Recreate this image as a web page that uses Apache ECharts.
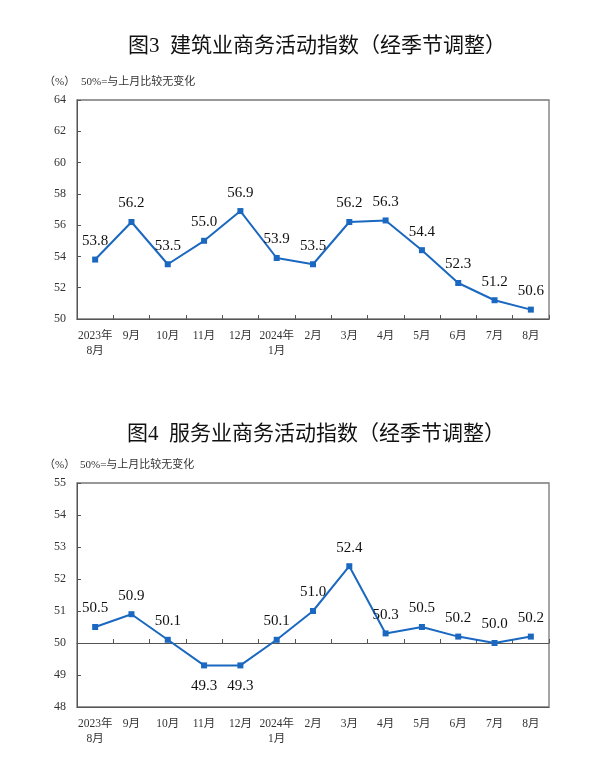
<!DOCTYPE html>
<html><head><meta charset="utf-8">
<script src="https://cdn.jsdelivr.net/npm/echarts@6/dist/echarts.min.js"></script>
<style>html,body{margin:0;padding:0;background:#fff}#c{width:607px;height:771px}</style>
</head><body><div id="c"></div>
<script>
const categories = ['2023年\n8月','9月','10月','11月','12月','2024年\n1月','2月','3月','4月','5月','6月','7月','8月'];
const constructionValues = [53.8,56.2,53.5,55.0,56.9,53.9,53.5,56.2,56.3,54.4,52.3,51.2,50.6];
const servicesValues = [50.5,50.9,50.1,49.3,49.3,50.1,51.0,52.4,50.3,50.5,50.2,50.0,50.2];
const servicesLabelBelow = [false,false,false,true,true,false,false,false,false,false,false,false,false];
const title1 = '图3  建筑业商务活动指数（经季节调整）';
const title2 = '图4  服务业商务活动指数（经季节调整）';
const unitText = '（%）';
const noteText = '50%=与上月比较无变化';

const SERIF = '"Liberation Serif","Times New Roman","Noto Sans CJK SC",serif';
const TITLEFONT = '"Liberation Serif","Noto Sans CJK SC",serif';
const BLUE = '#1a68c0';
const AX = '#555';

const chart = echarts.init(document.getElementById('c'), null, {renderer:'canvas'});

function xAxisDef(gridIndex, showLabel, showLine){
  return {
    type:'category', gridIndex, data:categories, boundaryGap:true,
    axisLine:{show:showLine, lineStyle:{color:AX, width:1}},
    axisTick:{show:true, inside:true, length:4, lineStyle:{color:AX}},
    axisLabel:{show:showLabel, color:'#333', fontFamily:SERIF, fontSize:11.5, margin:9, lineHeight:15, interval:0},
    splitLine:{show:false}
  };
}
function yAxisDef(gridIndex, min, max, interval){
  return {
    type:'value', gridIndex, min, max, interval,
    axisLine:{show:true, lineStyle:{color:AX, width:1}},
    axisTick:{show:true, inside:true, length:4, lineStyle:{color:AX}},
    axisLabel:{color:'#333', fontFamily:SERIF, fontSize:12, margin:11},
    splitLine:{show:false}
  };
}
function labelStyle(){
  return {show:true, position:'top', distance:8, color:'#111', fontFamily:SERIF, fontSize:15,
    formatter:p=>Number(p.value).toFixed(1)};
}

const option = {
  animation:false,
  backgroundColor:'#fff',
  title:[
    {text:title1, left:123, top:31, textStyle:{fontFamily:TITLEFONT, fontSize:21, fontWeight:'normal', color:'#111'}},
    {text:title2, left:122, top:419, textStyle:{fontFamily:TITLEFONT, fontSize:21, fontWeight:'normal', color:'#111'}}
  ],
  graphic:[
    {type:'text', left:44, top:77, style:{text:unitText, font:'11px '+TITLEFONT, fill:'#333'}},
    {type:'text', left:81, top:77, style:{text:noteText, font:'11px '+TITLEFONT, fill:'#333'}},
    {type:'text', left:44, top:460, style:{text:unitText, font:'11px '+TITLEFONT, fill:'#333'}},
    {type:'text', left:80, top:460, style:{text:noteText, font:'11px '+TITLEFONT, fill:'#333'}}
  ],
  grid:[
    {left:77, right:58, top:100, height:219, show:true, borderColor:'#777', borderWidth:1.3, backgroundColor:'transparent'},
    {left:77, right:58, top:483, height:224, show:true, borderColor:'#777', borderWidth:1.3, backgroundColor:'transparent'},
    {left:77, right:58, top:483, height:160, show:false}
  ],
  xAxis:[
    xAxisDef(0, true, true),
    Object.assign(xAxisDef(1, true, true), {axisTick:{show:false}}),
    xAxisDef(2, false, true)
  ],
  yAxis:[
    yAxisDef(0, 50, 64, 2),
    yAxisDef(1, 48, 55, 1),
    {type:'value', gridIndex:2, min:50, max:55, show:false}
  ],
  series:[
    {type:'line', xAxisIndex:0, yAxisIndex:0, data:constructionValues,
     symbol:'rect', symbolSize:6, lineStyle:{color:BLUE, width:2}, itemStyle:{color:BLUE},
     label:labelStyle()},
    {type:'line', xAxisIndex:1, yAxisIndex:1,
     data:servicesValues.map((v,i)=>({value:v, label:servicesLabelBelow[i]?{position:'bottom', distance:10}:undefined})),
     symbol:'rect', symbolSize:6, lineStyle:{color:BLUE, width:2}, itemStyle:{color:BLUE},
     label:labelStyle()}
  ]
};
chart.setOption(option);
</script></body></html>
